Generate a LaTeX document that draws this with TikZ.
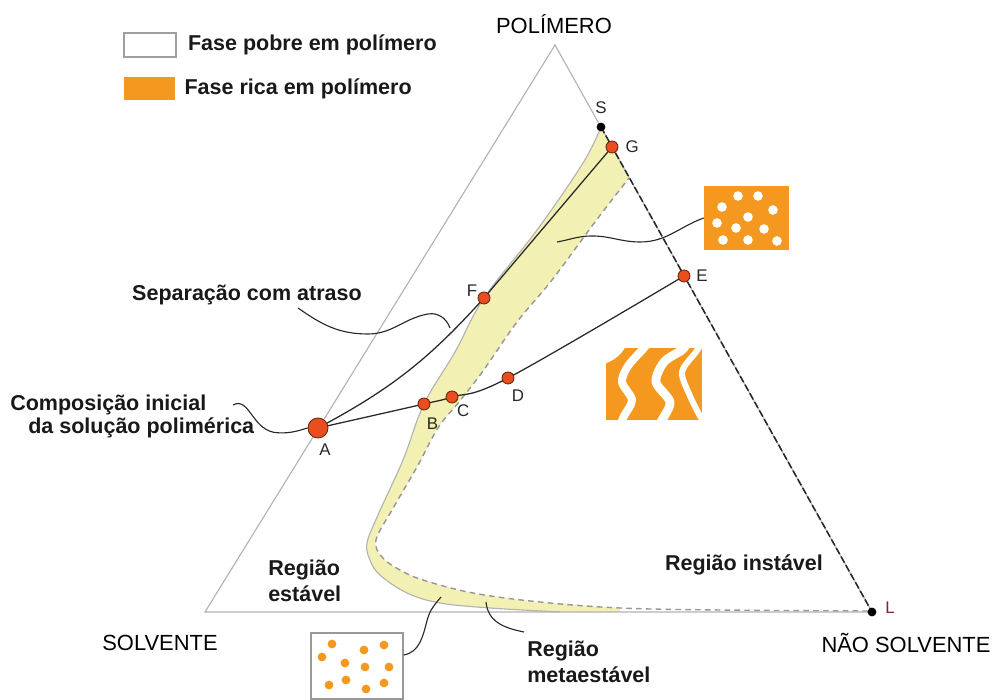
\documentclass[tikz,border=0pt]{standalone}
\usepackage{fontspec}
\setmainfont{Liberation Sans}
\usetikzlibrary{positioning}
\definecolor{ptred}{RGB}{232,78,30}
\definecolor{richorange}{RGB}{244,152,32}
\definecolor{bandyellow}{RGB}{243,240,180}
\definecolor{edgegray}{RGB}{178,178,178}
\definecolor{inkgray}{RGB}{40,40,40}
\definecolor{lred}{RGB}{120,40,60}

\begin{document}
\begin{tikzpicture}[
    side/.style = {draw=edgegray, line width=0.8pt},
    spinodal/.style = {draw=edgegray!85!black, line width=1pt, dash pattern=on 4pt off 3pt},
    route/.style = {draw=inkgray, line width=0.9pt},
    pointer/.style = {draw=inkgray, line width=0.8pt},
    bigdot/.style = {circle, fill=ptred, draw=ptred!45!black, line width=0.6pt, minimum size=0.5cm, inner sep=0pt},
    smalldot/.style = {circle, fill=ptred, draw=ptred!45!black, line width=0.6pt, minimum size=0.3cm, inner sep=0pt},
    blackdot/.style = {circle, fill=black, minimum size=0.22cm, inner sep=0pt},
    ptlabel/.style = {inner sep=0pt, text=inkgray, font=\fontsize{12}{14}\selectfont},
    corner/.style = {inner sep=0pt, font=\fontsize{15.6}{18}\selectfont},
    note/.style = {inner sep=0pt, text=black!90, font=\fontsize{15.3}{18.4}\selectfont\bfseries, align=left},
  ]
  \useasboundingbox (0,0) rectangle (24.875,17.5);

  \coordinate (solv) at (5.125,2.2);
  \coordinate (poly) at (13.875,16.375);
  \coordinate (L) at (21.8,2.2);
  \coordinate (S) at (15.025,14.325);
  \coordinate (G) at (15.3,13.825);
  \coordinate (F) at (12.1,10.05);
  \coordinate (E) at (17.1,10.6);
  \coordinate (D) at (12.7,8.05);
  \coordinate (C) at (11.3,7.575);
  \coordinate (B) at (10.6,7.4);
  \coordinate (A) at (7.95,6.8);

  % metastable band
  \fill[bandyellow] plot[smooth, tension=0.6] coordinates {(S) (14.575,13.425) (13.425,11.75) (F) (11.375,8.7) (B) (10.075,6.0) (9.45,4.625) (9.175,3.925) (9.25,3.5) (9.5,3.125) (10.175,2.675) (11.0,2.425) (12.25,2.3) (14.0,2.2) (15.5,2.2)}
    -- plot[smooth, tension=0.6] coordinates {(15.5,2.3) (13.5,2.45) (11.825,2.675) (10.575,3.0) (10.0,3.25) (9.55,3.575) (9.4,4.0) (9.8,4.75) (10.425,5.825) (10.95,6.8) (11.475,7.45) (12.075,8.225) (12.925,9.45) (13.8,10.5) (14.875,11.95) (15.725,13.05)}
    -- cycle;
  \draw[side] plot[smooth, tension=0.6] coordinates {(S) (14.575,13.425) (13.425,11.75) (F) (11.375,8.7) (B) (10.075,6.0) (9.45,4.625) (9.175,3.925) (9.25,3.5) (9.5,3.125) (10.175,2.675) (11.0,2.425) (12.25,2.3) (14.0,2.2)};
  \draw[spinodal] plot[smooth, tension=0.6] coordinates {(21.7,2.225) (18.0,2.25) (15.5,2.3) (13.5,2.45) (11.825,2.675) (10.575,3.0) (10.0,3.25) (9.55,3.575) (9.4,4.0) (9.8,4.75) (10.425,5.825) (10.95,6.8) (11.475,7.45) (12.075,8.225) (12.925,9.45) (13.8,10.5) (14.875,11.95) (15.725,13.05)};

  \draw[side] (solv) -- (poly) -- (L) -- cycle;
  \draw[inkgray, line width=1.1pt, dash pattern=on 5pt off 2pt] (S) -- (L);

  \draw[route] (A) to[bend right=10] (F) -- (G);
  \draw[route] plot[smooth, tension=0.6] coordinates {(A) (B) (C) (D) (E)};

  \node[bigdot] (a) at (A) {};
  \foreach \p/\q in {B/b, C/c, D/d, E/e, F/f, G/g}
    \node[smalldot] (\q) at (\p) {};
  \node[blackdot] (s) at (S) {};
  \node[blackdot] (l) at (L) {};

  \node[ptlabel, below=4pt of a, xshift=5pt] {A};
  \node[ptlabel, below=5pt of b, xshift=6pt] {B};
  \node[ptlabel, below=1pt of c, xshift=8pt] {C};
  \node[ptlabel, below=4pt of d, xshift=7pt] {D};
  \node[ptlabel, right=4pt of e] {E};
  \node[ptlabel, left=0pt of f, yshift=5pt] {F};
  \node[ptlabel, right=5pt of g] {G};
  \node[ptlabel, above=6pt of s] {S};
  \node[ptlabel, right=6pt of l, yshift=3pt, text=lred] {L};

  \node[corner] at (13.85,16.9) {POLÍMERO};
  \node[corner] at (4.0,1.425) {SOLVENTE};
  \node[corner] at (22.65,1.425) {NÃO SOLVENTE};

  % legend
  \node[draw=gray!75, line width=1.1pt, fill=white, minimum width=1.3cm, minimum height=0.6cm, inner sep=0pt] (poorbox) at (3.75,16.375) {};
  \node[fill=richorange, minimum width=1.275cm, minimum height=0.575cm, inner sep=0pt] (richbox) at (3.7375,15.2875) {};
  \node[note, right=0.275cm of poorbox] {Fase pobre em polímero};
  \node[note, right=0.225cm of richbox] {Fase rica em polímero};

  % insets
  \node[fill=richorange, minimum width=2.125cm, minimum height=1.6cm, inner sep=0pt] (droplets) at (18.6625,12.05) {};
  \foreach \x/\y in {18.45/12.6, 18.95/12.6, 18.05/12.325, 19.325/12.25, 18.7/12.075, 17.925/11.925, 18.4/11.8, 19.1/11.775, 18.075/11.5, 18.7/11.5, 19.425/11.475}
    \fill[white] (\x,\y) circle (0.12);

  \node[fill=richorange, minimum width=2.4cm, minimum height=1.8cm, inner sep=0pt] (spinbox) at (16.35,7.9) {};
  \begin{scope}
    \clip (spinbox.south west) rectangle (spinbox.north east);
    \fill[white] (15.1,8.85) -- (15.65,8.85) to[out=-120,in=20] (15.1,8.4) -- cycle;
    \draw[white, line width=0.2cm] plot[smooth] coordinates {(16.2,8.95) (16.1,8.8) (15.7,8.35) (15.55,7.95) (15.8,7.5) (15.6,7.1) (15.5,6.85)};
    \draw[white, line width=0.22cm] plot[smooth] coordinates {(17.2,8.95) (17.05,8.75) (16.6,8.45) (16.4,7.95) (16.75,7.45) (16.55,7.0) (16.45,6.85)};
    \draw[white, line width=0.15cm] plot[smooth] coordinates {(17.5,8.85) (17.4,8.7) (17.05,8.2) (17.25,7.6) (17.5,7.1) (17.6,6.95)};
  \end{scope}

  \node[draw=gray!80, line width=1pt, minimum width=2.3cm, minimum height=1.65cm, inner sep=0pt] (lean) at (8.925,0.85) {};
  \foreach \x/\y in {8.3/1.4, 9.1/1.25, 9.6/1.375, 8.05/1.075, 8.625/0.925, 9.125/0.825, 9.725/0.825, 8.225/0.375, 8.65/0.5, 9.15/0.275, 9.6/0.425}
    \fill[richorange] (\x,\y) circle (0.11);

  % annotations
  \node[note] at (6.175,10.125) {Separação com atraso};
  \node[note, anchor=west] at (0.25,7.375) {Composição inicial};
  \node[note, anchor=west] at (0.7,6.8) {da solução polimérica};
  \node[note, anchor=west] at (6.7,2.975) {Região\\estável};
  \node[note] at (18.6,3.375) {Região instável};
  \node[note, anchor=west] at (13.175,0.95) {Região\\metaestável};

  \draw[pointer] (7.45,9.8) to[out=-35,in=180] (9.2,9.15) to[out=0,in=190] (10.7,9.65) to[out=10,in=110] (11.25,9.3);
  \draw[pointer] (5.825,7.375) .. controls (6.25,7.6) and (6.3,6.7) .. (6.95,6.68) .. controls (7.3,6.66) and (7.5,6.75) .. (a.west);
  \draw[pointer] (13.925,11.45) to[out=10,in=180] (14.8,11.6) to[out=0,in=180] (16.0,11.45) to[out=0,in=200] (droplets.west);
  \draw[pointer] ([yshift=0.275cm]lean.east) to[out=10,in=-105] (10.68,2.0) to[out=75,in=-130] (11.025,2.575);
  \draw[pointer] (12.15,2.45) .. controls (12.2,1.95) and (12.6,1.8) .. (13.1,1.7);
\end{tikzpicture}
\end{document}
